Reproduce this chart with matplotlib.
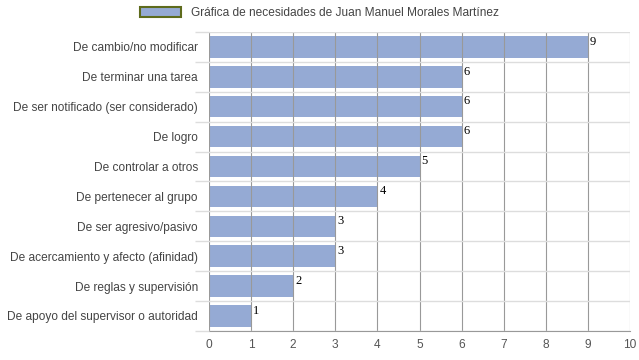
import matplotlib
matplotlib.use('Agg')
import matplotlib.pyplot as plt
from matplotlib.patches import Patch
import numpy as np

categories = ['De cambio/no modificar', 'De terminar una tarea', 'De ser notificado (ser considerado)',
              'De logro', 'De controlar a otros', 'De pertenecer al grupo', 'De ser agresivo/pasivo',
              'De acercamiento y afecto (afinidad)', 'De reglas y supervisión',
              'De apoyo del supervisor o autoridad']
values = [9, 6, 6, 6, 5, 4, 3, 3, 2, 1]
title = 'Gráfica de necesidades de Juan Manuel Morales Martínez'

plt.rcParams['font.family'] = 'Liberation Sans'
bar_color = '#95aad4'
fig = plt.figure(figsize=(6.39, 3.6), dpi=100)
ax = fig.add_axes([0.327, 0.081, 0.659, 0.83])

y = np.arange(len(categories))
ax.barh(y, values, height=0.72, color=bar_color, zorder=1)
for yi, v in zip(y, values):
    ax.text(v + 0.05, yi - 0.38, str(v), family='Liberation Serif', fontsize=9,
            va='top', ha='left', color='black', zorder=4)

ax.set_axisbelow(False)
ax.set_xlim(0, 10)
ax.set_ylim(len(categories) - 0.5, -0.5)
ax.set_xticks(range(11))
ax.set_yticks(y)
ax.set_yticklabels(categories, fontsize=8.6, color='#444444')
ax.tick_params(axis='y', length=0, pad=8)
ax.tick_params(axis='x', length=0, labelsize=8.6, labelcolor='#555555', pad=6)
# category boundary lines
ax.set_yticks(np.arange(-0.5, len(categories), 1), minor=True)
ax.tick_params(axis='y', which='minor', length=10, color='#dddddd', width=1)
ax.grid(axis='y', which='minor', color='#dddddd', linewidth=1)
ax.grid(axis='x', which='major', color='#999999', linewidth=0.8)
for s in ['top', 'right', 'left']:
    ax.spines[s].set_visible(False)
ax.spines['bottom'].set_color('#999999')

handle = Patch(facecolor=bar_color, edgecolor='#5e6b1c', linewidth=1.5)
fig.legend([handle], [title], loc='upper center', bbox_to_anchor=(0.5, 1.01), frameon=False,
           fontsize=8.6, labelcolor='#444444', handlelength=3.4, handleheight=0.9)

fig.savefig('out.png', dpi=100)
